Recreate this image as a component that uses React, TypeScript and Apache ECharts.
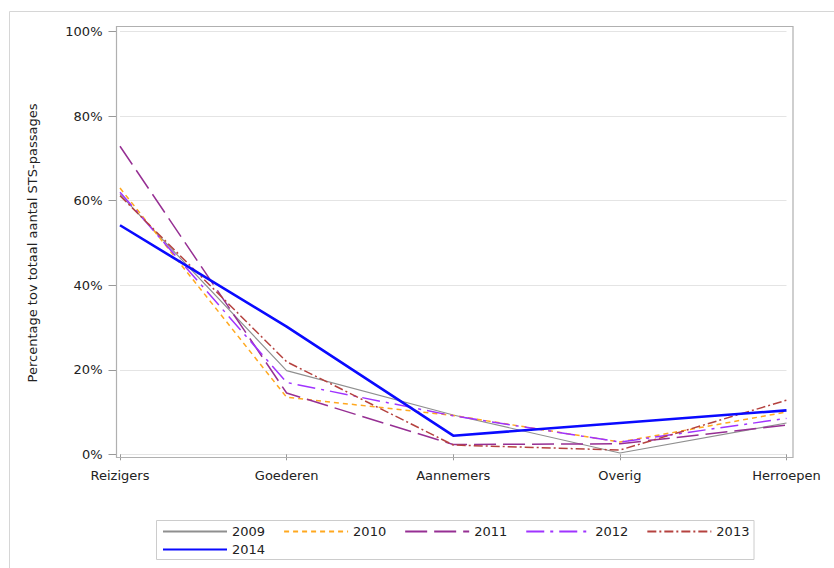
import React, { useEffect, useRef } from "react";
import * as echarts from "echarts";

const categories = ["Reizigers", "Goederen", "Aannemers", "Overig", "Herroepen"];
const years = ["2009", "2010", "2011", "2012", "2013", "2014"];

// percentages per year
const v2009 = [61.5, 19.8, 9.3, 0.3, 7.4];
const v2010 = [63.0, 13.5, 9.2, 2.9, 10.0];
const v2011 = [72.9, 14.5, 2.3, 2.5, 6.9];
const v2012 = [62.0, 17.0, 9.1, 2.9, 8.5];
const v2013 = [61.2, 21.9, 2.2, 1.0, 12.8];
const v2014 = [54.2, 30.2, 4.4, 7.4, 10.4];

const font = "DejaVu Sans";

const App = () => {
  const chartRef = useRef(null);

  useEffect(() => {
    if (!chartRef.current) return;
    const chart = echarts.init(chartRef.current, null, { renderer: "svg" });

    const mk = (name, data, color, width, type) => ({
      name,
      type: "line",
      data,
      symbol: "none",
      lineStyle: { color, width, type },
      itemStyle: { color },
      z: name === "2014" ? 5 : 3,
    });

    const legendBase = {
      orient: "horizontal",
      left: 162,
      padding: 0,
      itemWidth: 64,
      itemHeight: 14,
      itemGap: 18,
      itemStyle: { opacity: 0 },
      textStyle: { fontFamily: font, fontSize: 13, color: "#222" },
    };

    const option = {
      animation: false,
      textStyle: { fontFamily: font },
      grid: { left: 120, right: 47.5, top: 31.7, bottom: 113.7, containLabel: false },
      legend: [
        { ...legendBase, top: 525, data: years.slice(0, 5) },
        { ...legendBase, top: 543, data: years.slice(5) },
      ],
      xAxis: {
        type: "category",
        data: categories,
        boundaryGap: false,
        offset: 3,
        axisLine: { show: false },
        axisTick: { show: true, length: 6, lineStyle: { color: "#999" } },
        axisLabel: { fontFamily: font, fontSize: 13, color: "#222", margin: 12 },
      },
      yAxis: {
        type: "value",
        min: 0,
        max: 100,
        interval: 20,
        offset: 3.5,
        name: "Percentage tov totaal aantal STS-passages",
        nameLocation: "middle",
        nameGap: 78,
        nameTextStyle: { fontFamily: font, fontSize: 13, color: "#222" },
        axisLine: { show: false },
        axisTick: { show: true, length: 8, lineStyle: { color: "#999" } },
        axisLabel: { formatter: "{value}%", fontFamily: font, fontSize: 13, color: "#222", margin: 14 },
        splitLine: { lineStyle: { color: "#e4e4e4", width: 1 } },
      },
      graphic: [
        { type: "line", shape: { x1: 9.5, y1: 11.5, x2: 834, y2: 11.5 }, style: { stroke: "#d6d6d6", lineWidth: 1 } },
        { type: "line", shape: { x1: 9.5, y1: 11.5, x2: 9.5, y2: 568 }, style: { stroke: "#d6d6d6", lineWidth: 1 } },
        {
          type: "rect",
          shape: { x: 116.5, y: 26.5, width: 676.5, height: 431 },
          style: { fill: "none", stroke: "#b0b0b0", lineWidth: 1.2 },
          z: 10,
        },
        {
          type: "rect",
          shape: { x: 156.5, y: 520.5, width: 597.5, height: 39 },
          style: { fill: "none", stroke: "#cccccc", lineWidth: 1 },
        },
      ],
      series: [
        mk("2009", v2009, "#8f8f8f", 1.2, "solid"),
        mk("2010", v2010, "#ffa81f", 1.5, [5, 4]),
        mk("2011", v2011, "#962f93", 1.5, [22, 7]),
        mk("2012", v2012, "#a033ff", 1.5, [18, 6, 3, 6]),
        mk("2013", v2013, "#b5423f", 1.5, [9, 3, 2, 3]),
        mk("2014", v2014, "#0a0aff", 2.6, "solid"),
      ],
    };

    chart.setOption(option);
    return () => chart.dispose();
  }, []);

  return (
    <div
      ref={chartRef}
      style={{ position: "fixed", left: 0, top: 0, width: "834px", height: "568px", background: "#fff" }}
    />
  );
};

export default App;
